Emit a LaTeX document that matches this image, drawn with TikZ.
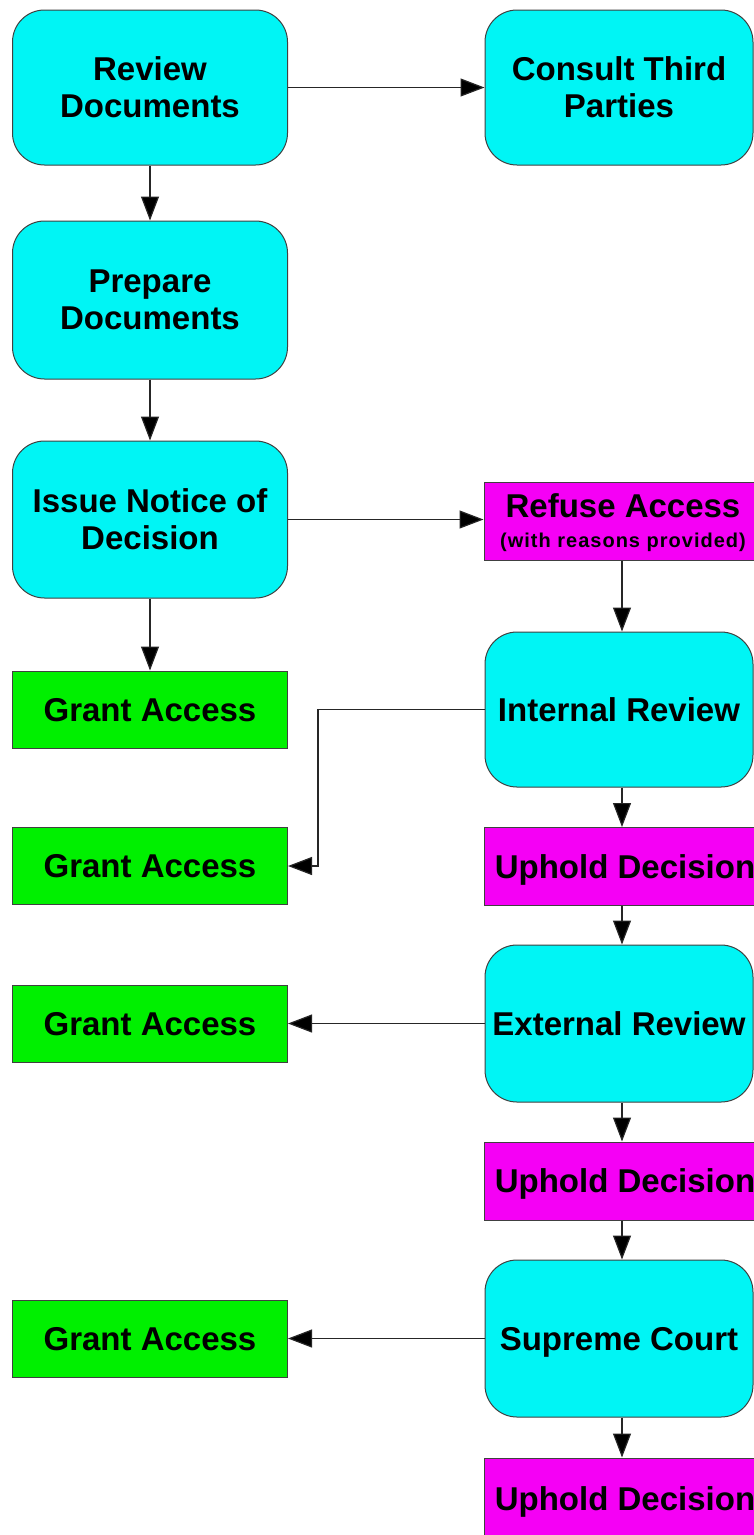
\documentclass[tikz,border=0pt]{standalone}
\usepackage{fontspec}
\setmainfont{Liberation Sans}
\usetikzlibrary{arrows.meta}
\definecolor{boxcyan}{RGB}{0,245,245}
\definecolor{boxgreen}{RGB}{0,240,0}
\definecolor{boxmag}{RGB}{245,0,245}
\tikzset{
  base/.style={draw=black!75, line width=1pt, font=\fontsize{33}{37}\selectfont\bfseries,
    align=center, inner sep=0pt, text depth=0pt},
  roundbox/.style={base, fill=boxcyan, rounded corners=32pt, minimum width=268pt, minimum height=156pt},
  greenbox/.style={base, fill=boxgreen, minimum width=275pt, minimum height=77pt},
  magbox/.style={base, fill=boxmag, minimum width=282pt, minimum height=78pt},
  arr/.style={draw=black!85, line width=1.2pt, -{Triangle[length=24pt,width=18pt,fill=black]}}
}
\begin{document}
\begin{tikzpicture}[x=1pt,y=-1pt]
\useasboundingbox[fill=white] (0,0) rectangle (754,1535);
% left column
\node[roundbox, minimum width=275pt, minimum height=155pt] (rd) at (150,87.5) {Review\\Documents};
\node[roundbox, minimum width=275pt, minimum height=158pt] (pd) at (150,300) {Prepare\\Documents};
\node[roundbox, minimum width=275pt, minimum height=157pt] (in) at (150,519.5) {Issue Notice of\\Decision};
\node[greenbox] (ga1) at (150,709.5) {Grant Access};
\node[greenbox] (ga2) at (150,866) {Grant Access};
\node[greenbox] (ga3) at (150,1023.5) {Grant Access};
\node[greenbox] (ga4) at (150,1339) {Grant Access};
% right column
\node[roundbox, minimum height=155pt] (ct) at (619,87.5) {Consult Third\\Parties};
\node[magbox, minimum width=278pt, font=\fontsize{33}{30}\selectfont\bfseries] (ra) at (623,521)
  {Refuse Access\\{\fontsize{20}{30}\selectfont\addfontfeature{LetterSpace=5}(with reasons provided)}};
\node[roundbox, minimum height=155pt] (ir) at (619,709.5) {Internal Review};
\node[magbox] (up1) at (625,866.5) {Uphold Decision};
\node[roundbox, minimum height=157pt] (er) at (619,1023.5) {External Review};
\node[magbox] (up2) at (625,1181) {Uphold Decision};
\node[roundbox, minimum height=157pt] (sc) at (619,1338.5) {Supreme Court};
\node[magbox, minimum height=82pt] (up3) at (625,1499) {Uphold Decision};
\coordinate (elbx) at (318,0);
\coordinate (colx) at (622,0);
% connectors
\draw[arr] (rd.east) -- (ct.west);
\draw[arr] (rd.south) -- (pd.north);
\draw[arr] (pd.south) -- (in.north);
\draw[arr] (in.south) -- (ga1.north);
\draw[arr] (in.east) -- (in.east -| ra.west);
\draw[arr] (ra.south -| colx) -- (ir.north -| colx);
\draw[arr] (ir.west) -- (ir.west -| elbx) |- (ga2.east);
\draw[arr] (ir.south -| colx) -- (up1.north -| colx);
\draw[arr] (up1.south -| colx) -- (er.north -| colx);
\draw[arr] (er.west) -- (er.west -| ga3.east);
\draw[arr] (er.south -| colx) -- (up2.north -| colx);
\draw[arr] (up2.south -| colx) -- (sc.north -| colx);
\draw[arr] (sc.west) -- (sc.west -| ga4.east);
\draw[arr] (sc.south -| colx) -- (up3.north -| colx);
\end{tikzpicture}
\end{document}
